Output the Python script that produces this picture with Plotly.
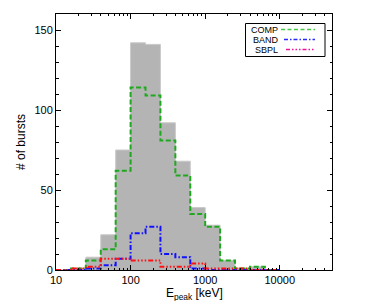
import plotly.graph_objects as go

# Bin edges (keV), 5 log bins per decade
bin_edges = [10, 15.85, 25.12, 39.81, 63.10, 100, 158.5, 251.2, 398.1, 631.0,
             1000, 1585, 2512, 3981, 6310, 10000]
# Counts per bin
total_counts = [0, 1, 8, 22, 75, 142, 141, 92, 68, 39, 28, 6, 1, 2, 0]
comp_counts = [0, 1, 6, 13, 62, 114, 109, 81, 59, 35, 27, 6, 1, 2, 0]
band_counts = [0, 0, 1, 3, 7, 23, 27, 10, 8, 1, 0, 0, 0, 0, 0]
sbpl_counts = [0, 1, 2, 7, 7, 6, 6, 2, 2, 4, 1, 1, 1, 0, 0]

legend_labels = ["COMP", "BAND", "SBPL"]


def step(counts):
    return list(bin_edges), list(counts) + [counts[-1]]


fig = go.Figure()

gx, gy = step(total_counts)
fig.add_trace(go.Scatter(x=gx, y=gy, mode="lines", line_shape="hv",
                         fill="tozeroy", fillcolor="#b4b4b4",
                         line=dict(color="#c9c9c9", width=1),
                         showlegend=False, hoverinfo="skip"))

styles = [
    (comp_counts, "#1fa81f", "5px,2.5px"),
    (band_counts, "#1010ff", "5px,2px,1.5px,2px"),
    (sbpl_counts, "#ff1010", "5px,2px,1.5px,2px,1.5px,2px,1.5px,2px"),
]
for counts, color, dash in styles:
    x, y = step(counts)
    fig.add_trace(go.Scatter(x=x, y=y, mode="lines", line_shape="hv",
                             line=dict(color=color, width=2, dash=dash),
                             showlegend=False))

# The page body has an 8px margin; work in window pixels then shift.
OFF = 8
W, H = 369 - OFF, 301 - OFF
L, R, T, B = 56, 332, 14, 270  # plot area in window pixels


def px(xp):
    return (xp - L) / (R - L)


def py(yp):
    return (B - yp) / (B - T)


shapes = [dict(type="rect", xref="paper", yref="paper",
               x0=px(245.5), x1=px(325), y0=py(56.5), y1=py(23.5),
               line=dict(color="black", width=1), fillcolor="white")]
annotations = []
leg_rows = [(29.5, 248.5, 281, "#44cc44", "4px,2.5px"),
            (39.5, 251, 284, "#2a2aff", "4px,2px,1.5px,2px"),
            (49.5, 252.5, 286, "#ee1199", "4px,2px,1.5px,2px,1.5px,2px,1.5px,2px")]
for label, (yy, tx, lx, col, dash) in zip(legend_labels, leg_rows):
    annotations.append(dict(text=label, xref="paper", yref="paper",
                            x=px(tx), y=py(yy), xanchor="left", yanchor="middle",
                            showarrow=False,
                            font=dict(family="Liberation Sans", size=9, color="black")))
    shapes.append(dict(type="line", xref="paper", yref="paper",
                       x0=px(lx), x1=px(315), y0=py(yy), y1=py(yy),
                       line=dict(color=col, width=1.5, dash=dash)))

# x-axis title as annotation placed under the tick labels
annotations.append(dict(text="E<sub>peak</sub> [keV]", xref="paper", yref="paper",
                        x=0.5, y=py(293.5), xanchor="center", yanchor="middle",
                        showarrow=False,
                        font=dict(family="Liberation Sans", size=12, color="black")))

fig.update_layout(
    width=W, height=H,
    margin=dict(l=L - OFF, r=W - (R - OFF), t=T - OFF, b=H - (B - OFF), pad=0),
    plot_bgcolor="white", paper_bgcolor="white",
    font=dict(family="Liberation Sans", size=11, color="black"),
    shapes=shapes, annotations=annotations,
    showlegend=False,
)
fig.update_xaxes(type="log", range=[1, 4.7], dtick=1, tickformat="d",
                 showline=True, linecolor="black", linewidth=1, mirror="ticks",
                 ticks="inside", ticklen=5, tickcolor="black",
                 minor=dict(dtick="D1", ticks="inside", ticklen=2, tickcolor="black"),
                 showgrid=False, zeroline=False,
                 automargin=False)
fig.update_yaxes(range=[0, 160], dtick=50,
                 showline=True, linecolor="black", linewidth=1, mirror="ticks",
                 ticks="inside", ticklen=5, tickcolor="black",
                 minor=dict(dtick=10, ticks="inside", ticklen=2.5, tickcolor="black"),
                 showgrid=False, zeroline=False,
                 title=dict(text="# of bursts", standoff=6, font=dict(size=12)),
                 automargin=False)

fig.write_html("out.html")
